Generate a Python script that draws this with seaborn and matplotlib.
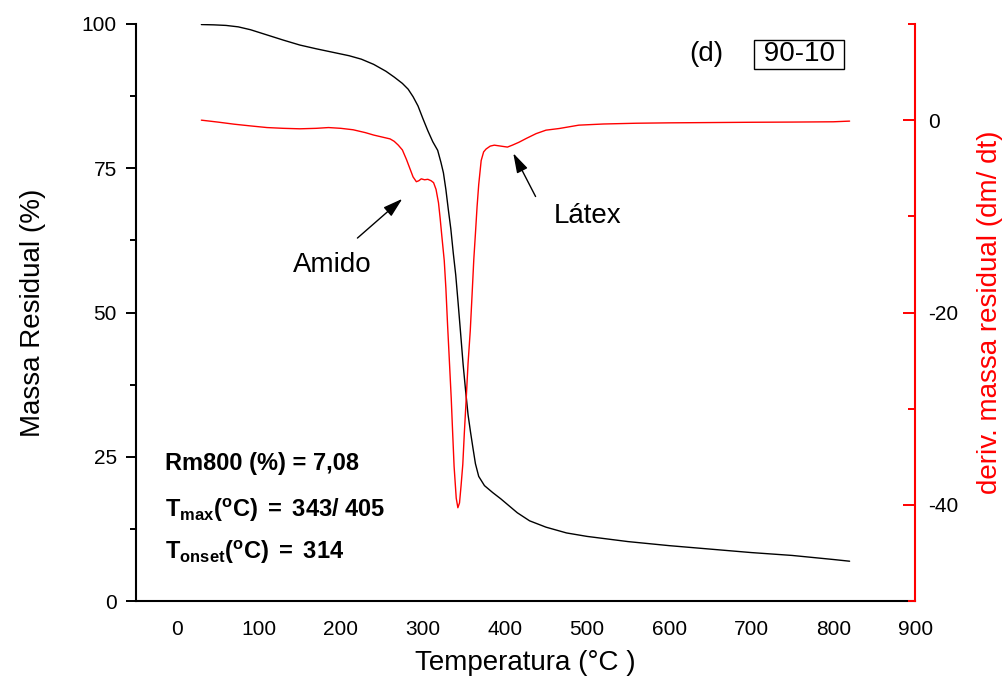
import matplotlib
matplotlib.use("Agg")
import matplotlib.pyplot as plt
import seaborn as sns
from matplotlib.ticker import MultipleLocator

# ---- data ----
temp_tg = [30, 45, 60, 75, 90, 110, 130, 150, 170, 190, 210, 225, 240, 255, 265,
           275, 282, 288, 294, 300, 306, 312, 318, 322, 325, 328, 331, 334, 337,
           340, 343, 346, 349, 352, 355, 358, 361, 364, 368, 375, 385, 395, 405,
           415, 430, 450, 475, 500, 550, 600, 650, 700, 750, 800, 820]
mass_tg = [99.9, 99.85, 99.75, 99.5, 99.0, 98.1, 97.2, 96.35, 95.7, 95.1, 94.5,
           93.9, 93.0, 91.8, 90.8, 89.7, 88.7, 87.4, 85.8, 83.6, 81.5, 79.6, 78.1,
           76.0, 74.2, 71.3, 67.8, 64.5, 60.3, 56.5, 51.5, 46.3, 41.0, 36.5, 32.3,
           29.3, 26.5, 23.8, 21.6, 20.0, 18.8, 17.7, 16.5, 15.3, 13.9, 12.8, 11.8,
           11.2, 10.3, 9.6, 9.0, 8.4, 7.9, 7.2, 6.9]

temp_dtg = [30, 50, 70, 90, 110, 130, 150, 170, 185, 200, 215, 230, 240, 250, 260,
            265, 270, 275, 280, 284, 288, 292, 295, 298, 302, 306, 310, 313, 316,
            319, 321, 323, 326, 328, 330, 332, 334.5, 336, 338, 340.6, 342.6, 344.6,
            346.5, 348.6, 350.5, 352.8, 355, 357.7, 360, 362, 364, 366, 368, 371,
            374, 377, 382, 387, 395, 403, 409, 417, 426, 438, 450, 466, 490, 520,
            560, 600, 650, 700, 750, 800, 820]
deriv_dtg = [0.0, -0.2, -0.42, -0.6, -0.77, -0.85, -0.9, -0.85, -0.77, -0.85, -1.0,
             -1.3, -1.55, -1.75, -1.95, -2.2, -2.6, -3.1, -4.1, -5.0, -5.9, -6.4,
             -6.3, -6.1, -6.2, -6.15, -6.3, -6.5, -7.2, -8.6, -10.2, -12.0, -14.6,
             -17.5, -21.2, -24.6, -28.9, -32.0, -36.0, -39.3, -40.3, -39.8, -38.0,
             -35.8, -32.5, -28.9, -25.3, -21.9, -18.0, -14.5, -11.8, -9.0, -6.7,
             -4.2, -3.3, -3.0, -2.7, -2.6, -2.7, -2.8, -2.6, -2.3, -1.9, -1.4,
             -1.04, -0.87, -0.52, -0.4, -0.32, -0.28, -0.25, -0.22, -0.2, -0.17, -0.1]

x_ticks = [0, 100, 200, 300, 400, 500, 600, 700, 800, 900]
y_ticks = [0, 25, 50, 75, 100]
y2_ticks = [-40, -20, 0]

# ---- style ----
sns.set_style("white")
plt.rcParams['font.family'] = ['Liberation Sans', 'DejaVu Sans']
plt.rcParams['mathtext.fontset'] = 'custom'
plt.rcParams['mathtext.rm'] = 'Liberation Sans'
plt.rcParams['mathtext.bf'] = 'Liberation Sans:bold'
plt.rcParams['mathtext.it'] = 'Liberation Sans:italic'
plt.rcParams['axes.unicode_minus'] = False
plt.rcParams['text.color'] = 'black'
plt.rcParams['axes.labelcolor'] = 'black'
plt.rcParams['xtick.color'] = 'black'
plt.rcParams['ytick.color'] = 'black'

fig = plt.figure(figsize=(10.06, 6.91), dpi=100)
ax = fig.add_axes([0.1349, 0.1302, 0.7749, 0.8351])
ax2 = ax.twinx()

sns.lineplot(x=temp_tg, y=mass_tg, ax=ax, color='black', lw=1.0,
             sort=False, estimator=None)
sns.lineplot(x=temp_dtg, y=deriv_dtg, ax=ax2, color='red', lw=1.0,
             sort=False, estimator=None)

ax.set_xlim(-50, 900)
ax.set_ylim(0, 100)
ax2.set_ylim(-50, 10)
ax.set_xticks(x_ticks)
ax.set_yticks(y_ticks)
ax2.set_yticks(y2_ticks)
ax.xaxis.set_minor_locator(MultipleLocator(50))
ax.yaxis.set_minor_locator(MultipleLocator(12.5))
ax2.yaxis.set_minor_locator(MultipleLocator(10))

for s in ['top', 'right']:
    ax.spines[s].set_visible(False)
for s in ['top', 'left', 'bottom']:
    ax2.spines[s].set_visible(False)
for s in ['left', 'bottom']:
    ax.spines[s].set_linewidth(1.5)
    ax.spines[s].set_color('black')
ax2.spines['right'].set_linewidth(1.5)
ax2.spines['right'].set_color('red')

ax.tick_params(which='major', direction='out', length=7.5, width=1.4,
               labelsize=15, pad=6, colors='black', top=False, right=False)
ax.tick_params(which='minor', direction='out', length=4, width=1.4,
               colors='black', top=False, right=False)
ax2.tick_params(axis='y', which='major', direction='in', length=8.5, width=1.4,
                color='red', labelcolor='black', labelsize=15, pad=9)
ax2.tick_params(axis='y', which='minor', direction='in', length=5, width=1.4,
                color='red')

ax.set_xlabel("Temperatura (°C )", fontsize=20, labelpad=8, color='black')
ax.set_ylabel("Massa Residual (%)", fontsize=20, labelpad=26, color='black')
ax2.set_ylabel("deriv. massa residual (dm/ dt)", fontsize=20, color='red',
               labelpad=14)

# ---- annotations ----
ax.text(645, 93.6, "(d)", fontsize=20, ha='center', va='baseline', color='black')
ax.text(758.5, 93.5, " 90-10 ", fontsize=20, ha='center', va='baseline',
        color='black',
        bbox=dict(boxstyle='square,pad=0.05', fc='white', ec='black', lw=1.0))

ax.text(189.8, 57.1, "Amido", fontsize=20, ha='center', va='baseline', color='black')
ax.text(500.9, 65.5, "Látex", fontsize=20, ha='center', va='baseline', color='black')
arrow = dict(arrowstyle='-|>,head_length=0.6,head_width=0.18', color='black',
             lw=1.0, mutation_scale=20, shrinkA=0, shrinkB=0)
ax.annotate("", xy=(274.9, 69.7), xytext=(220.2, 62.9), arrowprops=arrow)
ax.annotate("", xy=(410.1, 77.6), xytext=(437.3, 70.1), arrowprops=arrow)

ax.text(-14.4, 22.7, "Rm800 (%) = 7,08", fontsize=17, fontweight='bold',
        ha='left', va='baseline', color='black')
ax.text(-14.4, 14.6, r"$\mathbf{T_{max}(^{o}C)\ =\ 343/\ 405}$", fontsize=17,
        ha='left', va='baseline', color='black')
ax.text(-14.4, 7.3, r"$\mathbf{T_{onset}(^{o}C)\ =\ 314}$", fontsize=17,
        ha='left', va='baseline', color='black')

fig.savefig("out.png", dpi=100)
